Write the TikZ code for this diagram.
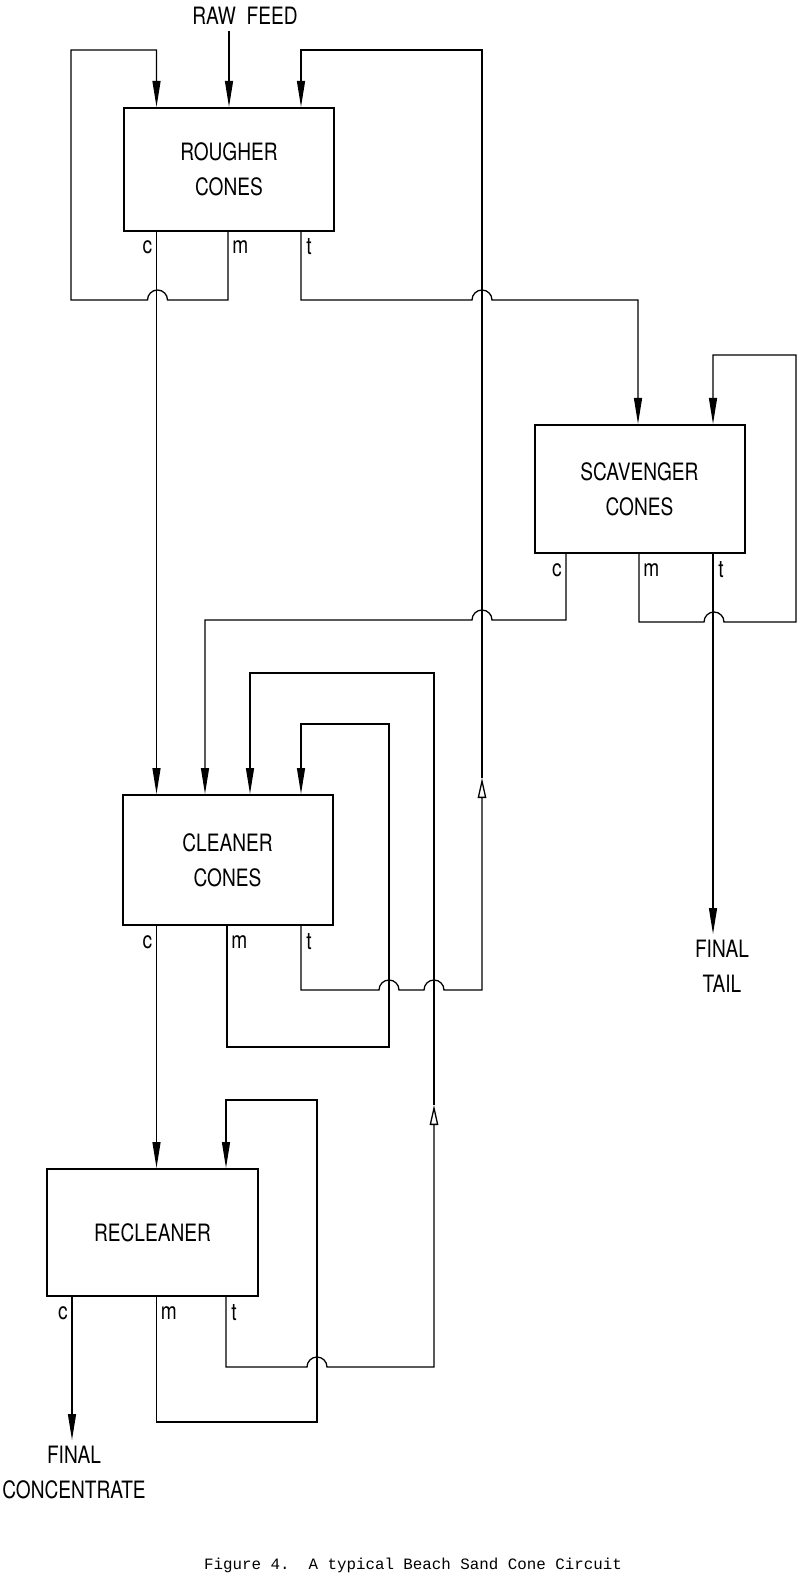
\documentclass[tikz,border=0pt]{standalone}
\usepackage{fontspec}
\setmainfont{TeX Gyre Heros}[FakeStretch=0.8]
\newfontfamily\capfont{Liberation Mono}
\usetikzlibrary{arrows.meta, calc, positioning}

\begin{document}
\begin{tikzpicture}[x=0.2mm, y=-0.2mm]

% TikZ styles
\tikzset{
  cone/.style={rectangle, draw=black, line width=0.4mm, minimum width=42mm, align=center, font=\fontsize{13.6}{20}\selectfont},
  flow/.style={line width=0.26mm},
  arrow/.style={flow, -{Triangle[length=5.2mm, width=1.6mm]}},
  arrowup/.style={flow, -{Triangle[open, length=4mm, width=1.7mm]}},
  portlabel/.style={font=\fontsize{13.6}{20}\selectfont, inner sep=0pt},
  endlabel/.style={align=center, font=\fontsize{13.6}{20}\selectfont},
  figcaption/.style={font=\capfont\fontsize{9}{11}\selectfont}
}

\useasboundingbox (0,0) rectangle (800,1580);

%==========================
% Cone units
%==========================
\node[cone, minimum height=24.6mm] (rough) at (229,169.5) {ROUGHER\\CONES};
\node[cone, minimum height=25.6mm] (scav) at (639.5,489) {SCAVENGER\\CONES};
\node[cone, minimum height=26mm] (clean) at (227.5,860) {CLEANER\\CONES};
\node[cone, minimum height=25.4mm] (reclean) at (152.5,1232.5) {RECLEANER};

\node[endlabel] (feed) at (245,16) {RAW\ \ FEED};
\node[endlabel, anchor=north] (tail) at (722,934) {FINAL\\TAIL};
\node[endlabel, anchor=north] (conc) at (74,1440) {FINAL\\CONCENTRATE};
\node[figcaption] (title) at (413,1565) {Figure 4.\ \ A typical Beach Sand Cone Circuit};

% outlets (c, m, t) and inlets
\coordinate (rough-c) at ($(rough.south west)+(33.5,0)$);
\coordinate (rough-m) at ($(rough.south west)+(105,0)$);
\coordinate (rough-t) at ($(rough.south west)+(178,0)$);
\coordinate (rough-in1) at ($(rough.north west)+(33.5,0)$);
\coordinate (rough-in2) at (rough.north);
\coordinate (rough-in3) at ($(rough.north west)+(178,0)$);

\coordinate (scav-c) at ($(scav.south west)+(32.5,0)$);
\coordinate (scav-m) at ($(scav.south west)+(105.5,0)$);
\coordinate (scav-t) at ($(scav.south west)+(179.5,0)$);
\coordinate (scav-in1) at ($(scav.north west)+(104.5,0)$);
\coordinate (scav-in2) at ($(scav.north west)+(179.5,0)$);

\coordinate (clean-c) at ($(clean.south west)+(35,0)$);
\coordinate (clean-m) at ($(clean.south west)+(105.5,0)$);
\coordinate (clean-t) at ($(clean.south west)+(179.5,0)$);
\coordinate (clean-in1) at ($(clean.north west)+(35,0)$);
\coordinate (clean-in2) at ($(clean.north west)+(83.5,0)$);
\coordinate (clean-in3) at ($(clean.north west)+(128.5,0)$);
\coordinate (clean-in4) at ($(clean.north west)+(179.5,0)$);

\coordinate (reclean-c) at ($(reclean.south west)+(25.5,0)$);
\coordinate (reclean-m) at ($(reclean.south west)+(110,0)$);
\coordinate (reclean-t) at ($(reclean.south west)+(179.5,0)$);
\coordinate (reclean-in1) at ($(reclean.north west)+(110,0)$);
\coordinate (reclean-in2) at ($(reclean.north west)+(179.5,0)$);

\coordinate (up-rough) at (482,778);
\coordinate (up-clean) at (434,1105);

% c / m / t labels
\foreach \u in {rough, scav, clean, reclean}{
  \node[portlabel, anchor=base east] (\u-clabel) at ($(\u-c)+(-4,22)$) {c};
  \node[portlabel, anchor=base west] (\u-mlabel) at ($(\u-m)+(4,22)$) {m};
  \node[portlabel, anchor=base west] (\u-tlabel) at ($(\u-t)+(5,23)$) {t};
}

%Pfeile
\draw[arrow] (rough-in2 |- feed.south) -- (rough-in2);

\draw[arrow] (rough-m) |- (167.5,300) arc[start angle=0, end angle=-180, radius=10]
  -- (71,300) -- (71,50) -| (rough-in1);

\draw[arrow] (rough-c) -- (clean-in1);

\draw[arrow] (rough-t) |- (472,300) arc[start angle=180, end angle=360, radius=10]
  -| (scav-in1);

\draw[arrow] (scav-c) |- (492,620) arc[start angle=0, end angle=-180, radius=10]
  -| (clean-in2);

\draw[arrow] (scav-m) |- (704,622) arc[start angle=180, end angle=360, radius=10]
  -- (796,622) -- (796,355) -| (scav-in2);

\draw[arrow] (scav-t) -- (scav-t |- tail.north);

\draw[arrow] (clean-c) -- (reclean-in1);

\draw[arrow] (clean-m) |- (389,1047) -- (389,724) -| (clean-in4);

\draw[arrowup] (clean-t) |- (379,990) arc[start angle=180, end angle=360, radius=10]
  -- (424,990) arc[start angle=180, end angle=360, radius=10] -- (482,990) -- (up-rough);
\draw[arrow] (up-rough) -- (482,50) -| (rough-in3);

\draw[arrow] (reclean-c) -- (reclean-c |- conc.north);

\draw[arrow] (reclean-m) |- (317,1422) -- (317,1100) -| (reclean-in2);

\draw[arrowup] (reclean-t) |- (307,1367) arc[start angle=180, end angle=360, radius=10]
  -- (434,1367) -- (up-clean);
\draw[arrow] (up-clean) -- (434,673) -| (clean-in3);

\end{tikzpicture}
\end{document}
